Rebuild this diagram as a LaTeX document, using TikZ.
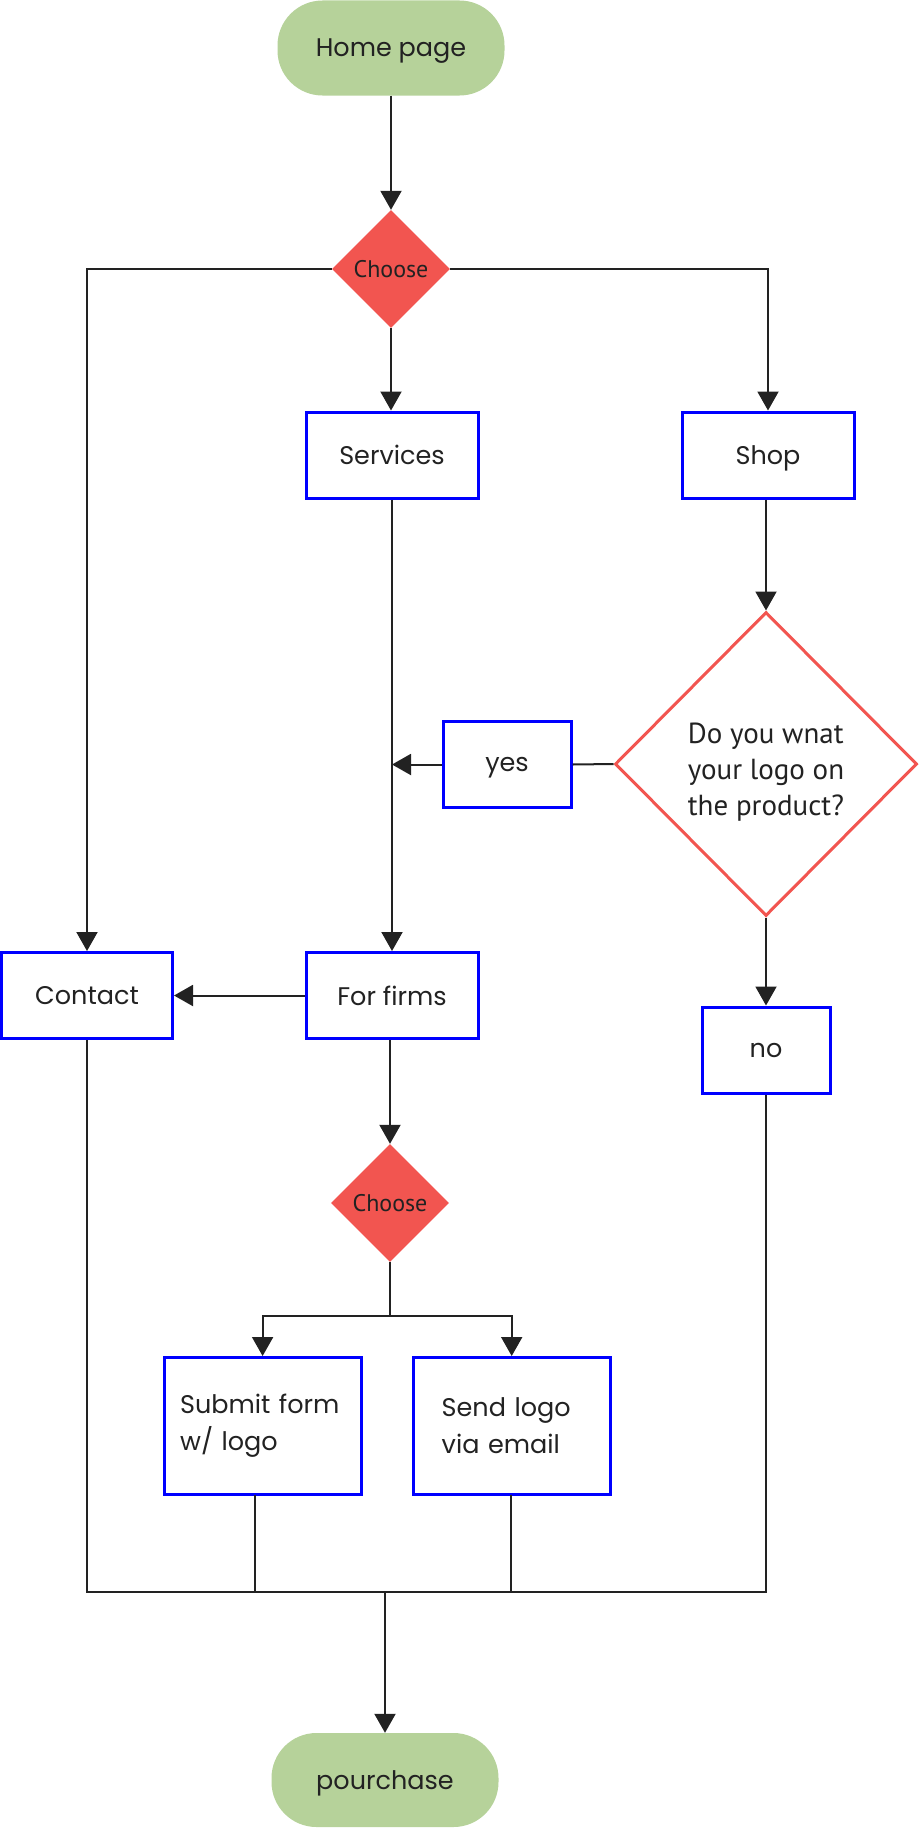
\documentclass[tikz,border=0pt]{standalone}
\usepackage{fontspec}
\setmainfont{Poppins}
\newfontfamily\myriadish{PT Sans}
\usetikzlibrary{shapes.geometric,arrows.meta}
\definecolor{pillgreen}{HTML}{B6D29A}
\definecolor{decred}{HTML}{F25550}
\definecolor{boxblue}{HTML}{0000FF}
\definecolor{ink}{HTML}{222222}
\newcommand{\mainfs}{\fontsize{25.5}{37}\selectfont}
\begin{document}
\begin{tikzpicture}[x=1pt,y=-1pt,
  pill/.style={rectangle, rounded corners=45pt, fill=pillgreen, minimum width=227pt,
    minimum height=95pt, inner sep=0pt, font=\mainfs, text=ink, text depth=0pt},
  decision/.style={diamond, fill=decred, minimum width=118pt, minimum height=118pt,
    inner sep=0pt, font=\myriadish\fontsize{24}{26}\selectfont, text=ink},
  question/.style={diamond, draw=decred, line width=3pt, fill=white, minimum width=302pt,
    minimum height=304pt, inner sep=0pt, align=left,
    font=\myriadish\fontsize{29}{36}\selectfont, text=ink},
  stepbox/.style={rectangle, draw=boxblue, line width=3pt, fill=white, minimum width=172pt,
    minimum height=86pt, inner sep=0pt, font=\mainfs, text=ink},
  onelinebox/.style={stepbox, text depth=0pt},
  flow/.style={draw=ink, line width=2pt},
  arr/.style={flow, -{Triangle[length=19pt,width=21pt]}}]
\useasboundingbox (0,0) rectangle (920,1828);

\node[pill] (home) at (391,48) {Home page};
\node[decision] (ch1) at (391,269) {Choose};
\node[onelinebox] (services) at (392,455) {Services};
\node[onelinebox] (shop) at (768,455) {Shop};
\node[question] (ask) at (766,764) {\rule{0pt}{37pt}Do you wnat\\your logo on\\the product?};
\node[onelinebox, minimum width=128pt] (yes) at (507,764.5) {yes};
\node[onelinebox, minimum width=171pt] (contact) at (87,995.5) {Contact};
\node[onelinebox] (firms) at (392,995.5) {For firms};
\node[onelinebox, minimum width=128pt] (no) at (766,1050) {no};
\node[decision] (ch2) at (390,1203) {Choose};
\node[stepbox, minimum width=197pt, minimum height=137pt, text width=165pt,
  inner xsep=16pt, align=left] (submit) at (262.6,1426) {Submit form\\w/ logo};
\node[stepbox, minimum width=197pt, minimum height=137pt, text width=140pt,
  inner xsep=28.5pt, align=left] (send) at (511.7,1426) {Send logo\\via email};
\node[pill, minimum height=94pt] (purchase) at (385,1780) {pourchase};

\coordinate (split) at (390,1316);
\coordinate (merge) at (385,1592);
\coordinate (subout) at (255.3,1494.5);
\coordinate (sendout) at (511,1494.5);

\draw[arr] (home.south) -- (ch1.north);
\draw[arr] (ch1.south) -- (ch1.south |- services.north);
\draw[arr] (ch1.west) -| (contact.north);
\draw[arr] (ch1.east) -| (shop.north);
\draw[arr] (ask.north |- shop.south) -- (ask.north);
\draw[flow] (ask.west) -- (yes.east);
\draw[arr] (yes.west) -- (yes.west -| services.south);
\draw[arr] (services.south) -- (firms.north);
\draw[arr] (firms.west) -- (contact.east);
\draw[arr] (ask.south -| no.north) -- (no.north);
\draw[arr] (ch2.north |- firms.south) -- (ch2.north);
\draw[flow] (ch2.south) -- (split);
\draw[arr] (split) -| (submit.north);
\draw[arr] (split) -| (send.north);
\draw[flow] (contact.south) |- (merge) -| (no.south);
\draw[flow] (subout) -- (subout |- merge);
\draw[flow] (sendout) -- (sendout |- merge);
\draw[arr] (merge) -- (purchase.north);
\end{tikzpicture}
\end{document}
